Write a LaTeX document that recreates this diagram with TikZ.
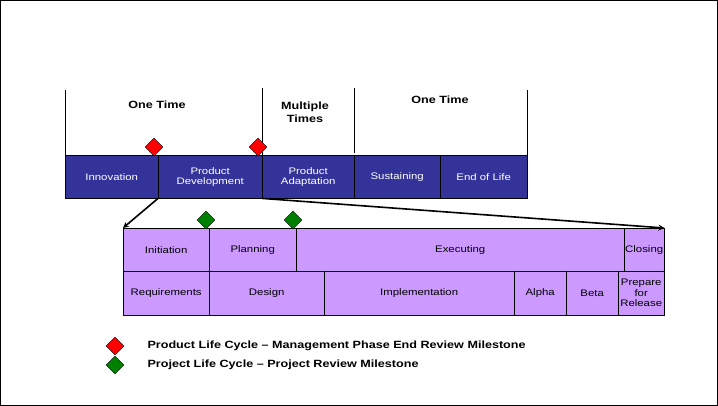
\documentclass[tikz,border=0pt]{standalone}
\usepackage{fontspec}
\setmainfont[FakeStretch=1.2]{Liberation Sans}
\usetikzlibrary{shapes.geometric}
\begin{document}
\begin{tikzpicture}[x=1pt,y=-1pt,
  dark/.style={draw=black,fill={rgb,255:red,51;green,51;blue,153},text=white,font=\fontsize{9.5}{10}\selectfont,align=center,inner sep=0},
  lite/.style={draw=black,fill={rgb,255:red,204;green,153;blue,255},text=black,font=\fontsize{9.5}{10.5}\selectfont,align=center,inner sep=0},
  dia/.style={draw=black,shape=diamond,aspect=1,inner sep=0,minimum size=18pt},
  hdr/.style={font=\bfseries\fontsize{10.5}{13}\selectfont,align=center},
  leg/.style={font=\bfseries\fontsize{10.5}{12}\selectfont,anchor=west}]
\draw[black,fill=white] (0.5,0.5) rectangle (717.5,405.5);
\path[use as bounding box] (0,0) rectangle (718,406);
% top bar
\node[dark,minimum width=93pt,minimum height=43pt,anchor=north west] (inn) at (65,155) {Innovation};
\node[dark,minimum width=104pt,minimum height=43pt,anchor=north west] (pd) at (158,155) {Product\\Development};
\node[dark,minimum width=92pt,minimum height=43pt,anchor=north west] (pa) at (262,155) {Product\\Adaptation};
\node[dark,minimum width=86pt,minimum height=43pt,anchor=north west] (sus) at (354,155) {Sustaining};
\node[dark,minimum width=87pt,minimum height=43pt,anchor=north west] (eol) at (440,155) {End of Life};
\draw (65,90) -- (65,155) (262,88) -- (262,155) (354,88) -- (354,153) (527,90) -- (527,155);
\node[hdr] (t1) at (157,105) {One Time};
\node[hdr] (t2) at (305,112) {Multiple\\Times};
\node[hdr] (t3) at (440,100) {One Time};
\node[dia,fill=red] (r1) at (154,147) {};
\node[dia,fill=red] (r2) at (258,147) {};
% lower table
\node[lite,minimum width=86pt,minimum height=43pt,anchor=north west] (ini) at (123,228) {Initiation};
\node[lite,minimum width=87pt,minimum height=43pt,anchor=north west] (pln) at (209,228) {Planning};
\node[lite,minimum width=328pt,minimum height=43pt,anchor=north west] (exe) at (296,228) {Executing};
\node[lite,minimum width=40pt,minimum height=43pt,anchor=north west] (clo) at (624,228) {Closing};
\node[lite,minimum width=86pt,minimum height=44pt,anchor=north west] (req) at (123,271) {Requirements};
\node[lite,minimum width=115pt,minimum height=44pt,anchor=north west] (des) at (209,271) {Design};
\node[lite,minimum width=190pt,minimum height=44pt,anchor=north west] (imp) at (324,271) {Implementation};
\node[lite,minimum width=52pt,minimum height=44pt,anchor=north west] (alp) at (514,271) {Alpha};
\node[lite,minimum width=52pt,minimum height=44pt,anchor=north west] (bet) at (566,271) {Beta};
\node[lite,minimum width=46pt,minimum height=44pt,anchor=north west] (pre) at (618,271) {Prepare\\for\\Release};
\node[dia,fill={rgb,255:red,0;green,128;blue,0}] (g1) at (206,220) {};
\node[dia,fill={rgb,255:red,0;green,128;blue,0}] (g2) at (293,220) {};
% arrows
\draw[line width=1.6pt,-stealth] (pd.south west) -- (ini.north west);
\draw[line width=1.6pt,-stealth] (pa.south west) -- (clo.north east);
% legend
\node[dia,fill=red] (lr) at (115,346) {};
\node[dia,fill={rgb,255:red,0;green,128;blue,0}] (lg) at (115,365) {};
\node[leg] (l1) at (144,346) {Product Life Cycle -- Management Phase End Review Milestone};
\node[leg] (l2) at (144,365) {Project Life Cycle -- Project Review Milestone};
\end{tikzpicture}
\end{document}
